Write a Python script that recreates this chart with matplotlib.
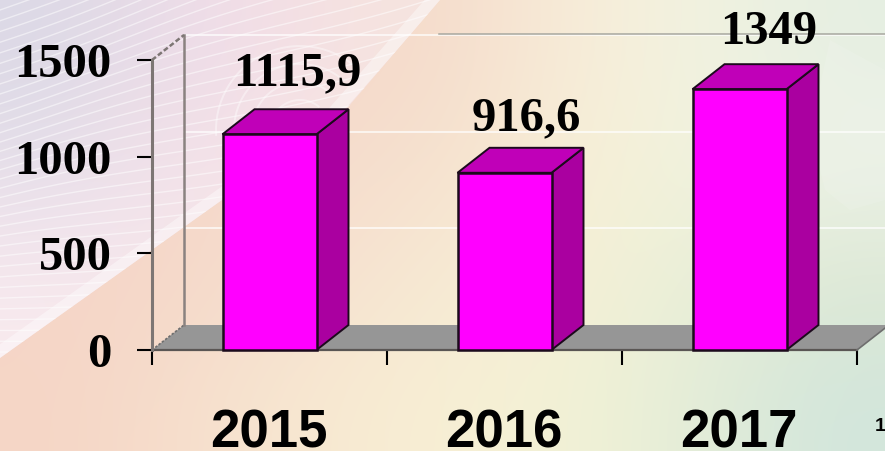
import numpy as np
import matplotlib
matplotlib.use("Agg")
import matplotlib.pyplot as plt
from matplotlib.colors import to_rgb
from matplotlib.patches import Polygon

years = ["2015", "2016", "2017"]
values = [1115.9, 916.6, 1349]
value_labels = ["1115,9", "916,6", "1349"]
y_ticks = [0, 500, 1000, 1500]

W, H = 885, 451
fig = plt.figure(figsize=(W / 100, H / 100), dpi=100)

# background, pixel coordinates
bg = fig.add_axes([0, 0, 1, 1])
base_colors = [
    ["#f5d6c8", "#f5d8ca", "#f5d9ca", "#f5dccc", "#f8ecd8", "#f2f3e0", "#e6efe2"],
    ["#f5d6c8", "#f5d8ca", "#f6dccd", "#f6e2cf", "#f7efd6", "#f1f3dc", "#ecf2e8"],
    ["#f5d5c8", "#f5d9ca", "#f6e1d0", "#f7ead4", "#f6f1d6", "#e9efd8", "#dde8d4"],
    ["#f6d6c6", "#f6dfcd", "#f8e9d2", "#f8efd4", "#f2f2d6", "#e4edd8", "#d2e6dc"],
]
swirl_colors = [
    ["#dcd9e6", "#e6dbe7", "#f0dde8", "#f4e0e3", "#f6e4df"],
    ["#e2dde8", "#eddfe8", "#f3e0e8", "#f7e4e6", "#f7e4dc"],
    ["#efe3ec", "#f3e4ec", "#f6e6ea", "#f7e4e0", "#f6dcd0"],
    ["#f8eaee", "#f8e8ea", "#f6e6e4", "#f6dcd0", "#f6dcd0"],
]
base = np.array([[to_rgb(c) for c in row] for row in base_colors])
swirl = np.array([[to_rgb(c) for c in row] for row in swirl_colors])
bg.imshow(base, extent=(0, W, H, 0), aspect="auto", interpolation="bicubic")

edge = Polygon(
    [(0, 358), (222, 200), (320, 140), (343, 113), (440, 0), (0, 0)],
    closed=True, facecolor="none", edgecolor="none",
)
bg.add_patch(edge)
img = bg.imshow(swirl, extent=(0, 440, 360, 0), aspect="auto", interpolation="bicubic")
img.set_clip_path(edge)

# fine wave lines inside the swirl
for i in range(40):
    y0 = 10 + i * 10
    xs = np.linspace(0, 450, 40)
    slope = 0.42 - 0.0011 * y0
    ys = y0 - slope * xs + 4 * np.sin(xs / 70 + i / 5)
    (wave,) = bg.plot(xs, ys, color="white", lw=1.0, alpha=0.5)
    wave.set_clip_path(edge)
(glow,) = bg.plot([0, 222, 320, 440], [352, 194, 128, -8], color="white", lw=9, alpha=0.4)
glow.set_clip_path(edge)
for r in [30, 48, 66, 84]:
    t = np.linspace(0.9, 3.2, 30)
    (arc,) = bg.plot(300 + r * np.cos(t), 130 - r * np.sin(t), color="white", lw=1.4, alpha=0.4)
    arc.set_clip_path(edge)

# pale patch top right
bg.add_patch(Polygon(
    [(885, 200), (850, 210), (825, 190), (810, 130), (830, 40), (885, 70)],
    closed=True, facecolor="#f1f5ee", edgecolor="none", alpha=0.25,
))
bg.set_xlim(0, W)
bg.set_ylim(H, 0)
bg.axis("off")

# chart axes: front plane of the 3D box
ax = fig.add_axes([152 / W, 1 - 350 / H, 705 / W, 290 / H])
ax.patch.set_alpha(0)
ax.set_xlim(-0.5, 2.5)
ax.set_ylim(0, 1500)
for s in ax.spines.values():
    s.set_visible(False)

depth_x = 32 / 235
depth_y = 25 / 290 * 1500
bar_w = 94 / 235
xmin, xmax = -0.5, 2.5
edge_col = "#1c0a1c"

# floor
ax.add_patch(Polygon(
    [(xmin, 0), (xmin + depth_x, depth_y), (xmax + depth_x, depth_y), (xmax, 0)],
    closed=True, facecolor="#969696", edgecolor="none", clip_on=False, zorder=1,
))
ax.plot([xmin, xmax], [0, 0], color="#5a5654", lw=1.6, clip_on=False, zorder=2)
ax.plot([xmin, xmin + depth_x], [0, depth_y], color="#6e6e6e", lw=1.2, ls=(0, (1.5, 1)),
        clip_on=False, zorder=2)
ax.plot([xmax, xmax + depth_x], [0, depth_y], color="#6e6e6e", lw=1.2, clip_on=False, zorder=2)

# gridlines on back wall
for t in y_ticks[1:]:
    ax.plot([xmin + depth_x, xmax + depth_x], [t + depth_y] * 2, color="white",
            lw=1.3, alpha=0.75, clip_on=False, zorder=1)
ax.plot([0.72, xmax + depth_x], [1500 + depth_y + 5] * 2, color="#a8a8a0", lw=1.1,
        clip_on=False, zorder=1)

# walls
ax.plot([xmin, xmin], [0, 1500], color="#7d7674", lw=2.2, clip_on=False, zorder=2)
ax.plot([xmin + depth_x] * 2, [depth_y, 1500 + depth_y], color="#8a8280", lw=1.8,
        clip_on=False, zorder=2)
ax.plot([xmin, xmin + depth_x], [1500, 1500 + depth_y], color="#7d7674", lw=1.8,
        ls=(0, (2, 1)), clip_on=False, zorder=2)

# bars
label_x = [28, 21.5, 29]
label_y = [49, 43, 45]
for i, v in enumerate(values):
    l, r = i - bar_w / 2, i + bar_w / 2
    ax.add_patch(Polygon(
        [(r, 0), (r + depth_x, depth_y), (r + depth_x, v + depth_y), (r, v)],
        closed=True, facecolor="#aa00a0", edgecolor=edge_col, lw=1.4, clip_on=False, zorder=3,
    ))
    ax.add_patch(Polygon(
        [(l, v), (l + depth_x, v + depth_y), (r + depth_x, v + depth_y), (r, v)],
        closed=True, facecolor="#c000b8", edgecolor=edge_col, lw=1.4, clip_on=False, zorder=3,
    ))
    ax.bar(i, v, width=bar_w, color="#ff00ff", edgecolor=edge_col, lw=1.8, zorder=4, clip_on=False)
    ax.annotate(value_labels[i], (i, v), xytext=(label_x[i], label_y[i]), textcoords="offset pixels",
                family="Liberation Serif", weight="bold", fontsize=35, ha="center",
                va="baseline", color="black", annotation_clip=False, zorder=5)

ax.set_yticks(y_ticks)
ax.set_xticks([-0.5, 0.5, 1.5, 2.5])
ax.set_xticklabels([])
ax.set_yticklabels([str(t) for t in y_ticks], family="Liberation Serif", weight="bold", fontsize=35)
ax.tick_params(axis="y", length=11, width=1.5, color="black", pad=18)
ax.tick_params(axis="x", length=11, width=1.5, color="black")

for i, y in enumerate(years):
    ax.annotate(y, (i, 0), xytext=(-1, -97), textcoords="offset pixels", ha="center",
                va="baseline", family="Liberation Sans", weight="bold", fontsize=38)

fig.text(875 / W, 1 - 431 / H, "1", family="Liberation Sans", weight="bold", fontsize=14)

fig.savefig("out.png", dpi=100)
